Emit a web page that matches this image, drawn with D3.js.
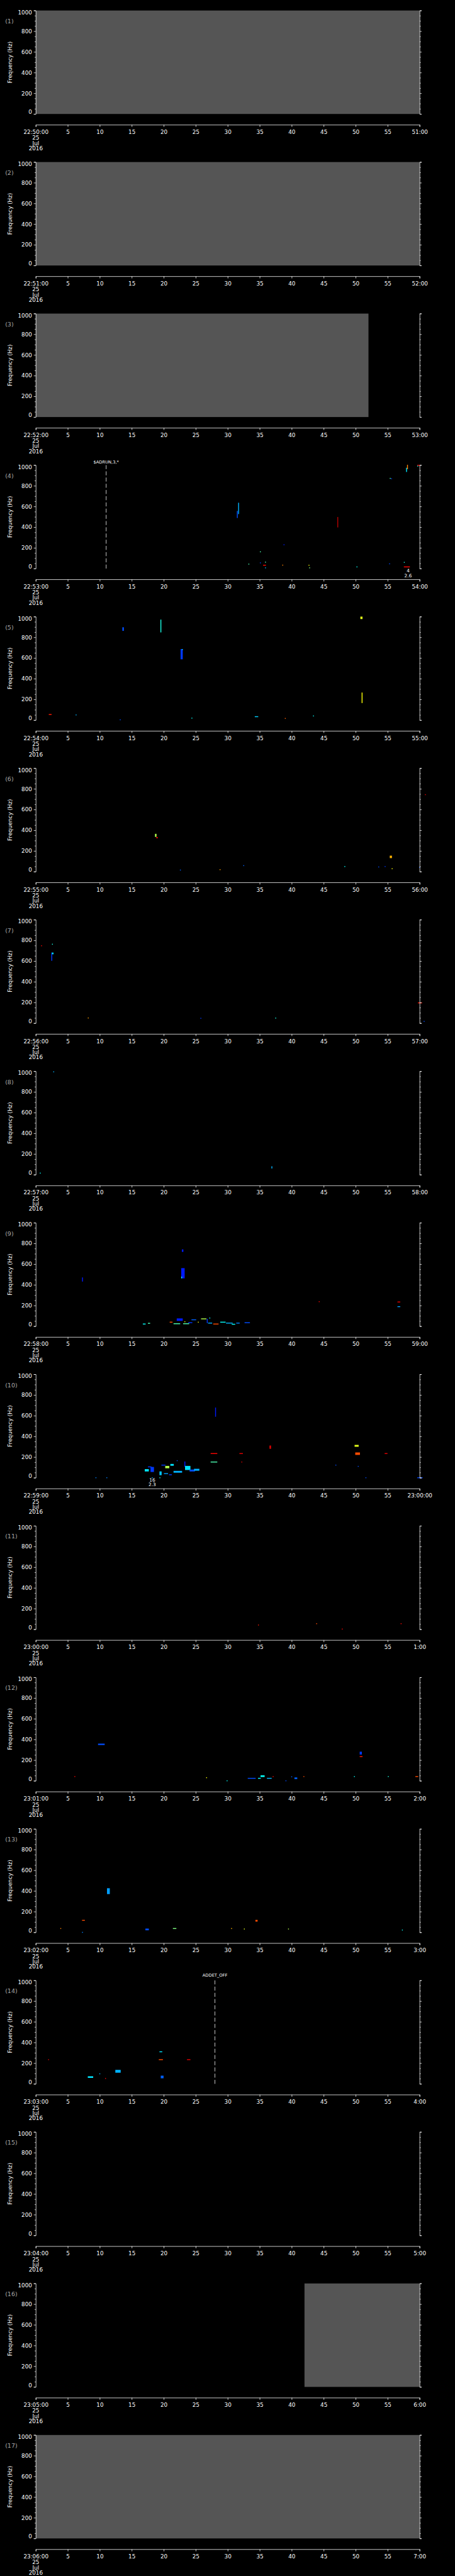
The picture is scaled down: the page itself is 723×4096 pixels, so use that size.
<!DOCTYPE html>
<html>
<head>
<meta charset="utf-8">
<script src="https://cdn.jsdelivr.net/npm/d3@7"></script>
<style>
  html, body { margin: 0; padding: 0; background: #000; }
  svg { display: block; }
  text { font-family: "DejaVu Sans", sans-serif; fill: #fff; }
</style>
</head>
<body>
<div id="chart"></div>
<script>
// one panel per minute, 22:50 -> 23:07
const panelStarts = ["22:50:00", "22:51:00", "22:52:00", "22:53:00", "22:54:00", "22:55:00",
  "22:56:00", "22:57:00", "22:58:00", "22:59:00", "23:00:00", "23:01:00", "23:02:00",
  "23:03:00", "23:04:00", "23:05:00", "23:06:00"];
const panelEnds = ["51:00", "52:00", "53:00", "54:00", "55:00", "56:00", "57:00", "58:00",
  "59:00", "23:00:00", "1:00", "2:00", "3:00", "4:00", "5:00", "6:00", "7:00"];
const dateLines = ["25", "Jul", "2016"];
const secondTicks = [0, 5, 10, 15, 20, 25, 30, 35, 40, 45, 50, 55, 60];
const freqMajor = [0, 200, 400, 600, 800, 1000];
const freqMinor = [50, 100, 150, 250, 300, 350, 450, 500, 550, 650, 700, 750, 850, 900, 950];

// no-data (grey) spans
const coverPanel = [1, 2, 3, 16, 17];
const coverFrom = [0, 0, 0, 42, 0];
const coverTo = [60, 60, 52, 60, 60];

// command markers
const annoPanel = [4, 14];
const annoSec = [11.0, 28.0];
const annoText = ["$ADRUN,3,*", "ADDET_OFF"];

// event labels below the plot
const eventPanel = [4, 10];
const eventSec = [58.2, 18.2];
const eventTop = ["4", "16"];
const eventBottom = ["2.6", "2.3"];

// spectrogram cells: [sec0, sec1, freq0, freq1, level]
const marks4 = [[31.5, 31.5, 493, 553, 0.2], [31.7, 31.7, 531, 632, 0.3], [47.2, 47.2, 402, 494, 0.95],
  [38.8, 38.8, 230, 230, 0.15], [35.1, 35.1, 162, 162, 0.45], [33.3, 33.3, 43, 43, 0.45],
  [35.1, 35.1, 55, 55, 0.18], [35.9, 35.9, 62, 62, 0.45], [35.6, 35.9, 32, 32, 0.87],
  [35.9, 35.9, 7, 7, 0.3], [38.6, 38.6, 33, 33, 0.75], [42.7, 42.7, 32, 32, 0.62],
  [42.8, 42.8, 7, 7, 0.5], [50.2, 50.2, 16, 16, 0.38], [55.3, 55.3, 46, 46, 0.2],
  [55.4, 55.4, 872, 872, 0.45], [55.6, 55.6, 868, 868, 0.18], [57.6, 57.6, 60, 60, 0.4],
  [57.6, 58.4, 16, 16, 0.87], [57.95, 57.95, 938, 970, 0.35], [58.1, 58.1, 965, 999, 0.75],
  [59.7, 60.0, 998, 998, 0.87], [59.7, 59.7, 990, 990, 0.4]];
const marks5 = [[13.6, 13.7, 867, 893, 0.2], [19.55, 19.55, 852, 967, 0.4], [22.7, 22.9, 592, 682, 0.18],
  [22.9, 22.9, 682, 682, 0.35], [50.8, 51.0, 981, 996, 0.6], [51.0, 51.0, 169, 262, 0.62],
  [2.1, 2.4, 54, 54, 0.85], [6.3, 6.3, 50, 50, 0.3], [13.2, 13.2, 3, 3, 0.2],
  [24.4, 24.4, 19, 19, 0.38], [34.3, 34.7, 33, 33, 0.33], [39.0, 39.0, 16, 16, 0.78],
  [43.4, 43.4, 40, 40, 0.38]];
const marks6 = [[18.7, 18.8, 340, 361, 0.55], [18.9, 19.0, 327, 330, 0.88], [22.6, 22.6, 15, 15, 0.22],
  [28.8, 28.8, 19, 19, 0.72], [32.5, 32.5, 58, 58, 0.22], [48.3, 48.3, 49, 49, 0.38],
  [53.6, 53.6, 45, 45, 0.2], [54.6, 54.6, 49, 49, 0.18], [55.4, 55.6, 135, 150, 0.7],
  [55.7, 55.7, 28, 28, 0.62], [60.0, 60.0, 41, 41, 0.2], [60.9, 60.9, 744, 744, 0.9]];
const marks7 = [[0.9, 0.9, 748, 748, 0.87], [2.6, 2.6, 763, 763, 0.4], [2.5, 2.5, 607, 678, 0.18],
  [2.6, 2.7, 670, 678, 0.35], [8.2, 8.2, 50, 50, 0.72], [25.8, 25.8, 47, 47, 0.18],
  [37.5, 37.5, 49, 49, 0.4], [59.8, 60.3, 196, 196, 0.85], [60.7, 60.7, 17, 17, 0.2]];
const marks8 = [[0.7, 0.7, 15, 15, 0.38], [2.8, 2.8, 994, 994, 0.3], [36.9, 36.9, 64, 77, 0.3]];
const marks9 = [[7.3, 7.3, 436, 467, 0.15], [22.9, 23.0, 723, 738, 0.15], [22.8, 23.2, 467, 557, 0.15],
  [22.8, 22.8, 467, 475, 0.38], [44.3, 44.3, 237, 237, 0.87], [56.6, 56.9, 234, 234, 0.9],
  [56.6, 56.9, 189, 189, 0.28], [16.8, 17.1, 21, 21, 0.38], [17.6, 17.8, 28, 28, 0.45],
  [21.0, 21.3, 39, 39, 0.8], [21.6, 22.5, 24, 24, 0.45], [22.1, 22.9, 56, 71, 0.15],
  [23.1, 23.9, 24, 24, 0.45], [23.3, 23.3, 43, 43, 0.62], [23.9, 24.4, 34, 34, 0.18],
  [24.4, 25.0, 62, 62, 0.22], [25.4, 25.4, 39, 39, 0.62], [25.9, 26.6, 71, 71, 0.55],
  [26.8, 26.8, 34, 67, 0.18], [27.0, 27.5, 30, 30, 0.3], [27.2, 27.2, 79, 79, 0.38],
  [27.8, 28.5, 21, 21, 0.8], [28.9, 29.6, 39, 39, 0.38], [29.8, 30.7, 30, 30, 0.3],
  [30.7, 31.1, 19, 19, 0.38], [31.4, 31.8, 30, 30, 0.25], [32.7, 33.4, 34, 34, 0.2]];
const marks10 = [[28.1, 28.1, 594, 674, 0.15], [27.4, 28.3, 234, 234, 0.87], [27.4, 28.3, 152, 152, 0.45],
  [31.9, 32.3, 234, 234, 0.9], [32.2, 32.2, 152, 152, 0.9], [36.6, 36.7, 284, 307, 0.9],
  [46.9, 46.9, 122, 122, 0.2], [49.9, 50.4, 304, 313, 0.6], [50.0, 50.6, 225, 240, 0.8],
  [50.4, 50.4, 110, 110, 0.2], [54.6, 54.9, 234, 234, 0.9], [51.6, 51.6, 0, 0, 0.2],
  [59.7, 60.4, 0, 0, 0.2], [9.4, 9.4, 0, 0, 0.25], [11.1, 11.1, 0, 0, 0.25],
  [18.2, 18.2, 0, 0, 0.3], [19.4, 19.4, 0, 0, 0.4], [17.1, 17.6, 65, 79, 0.35],
  [17.6, 18.0, 105, 105, 0.18], [18.0, 18.4, 60, 100, 0.18], [19.4, 19.6, 29, 57, 0.32],
  [20.1, 20.6, 40, 40, 0.28], [20.9, 21.2, 29, 29, 0.18], [19.7, 20.2, 122, 122, 0.18],
  [20.3, 20.8, 96, 110, 0.55], [21.1, 21.5, 120, 129, 0.35], [21.6, 22.8, 53, 62, 0.3],
  [22.1, 22.1, 165, 165, 0.2], [23.3, 23.3, 110, 153, 0.15], [23.4, 24.1, 79, 110, 0.35],
  [24.1, 24.8, 65, 75, 0.2], [24.8, 25.5, 72, 82, 0.3]];
const marks11 = [[34.8, 34.8, 41, 41, 0.85], [43.9, 43.9, 54, 54, 0.8], [47.9, 47.9, 2, 2, 0.87],
  [57.1, 57.1, 54, 54, 0.87]];
const marks12 = [[6.1, 6.1, 41, 41, 0.87], [9.8, 10.7, 350, 355, 0.2], [26.7, 26.7, 30, 30, 0.62],
  [29.9, 29.9, 0, 0, 0.38], [33.2, 34.3, 24, 24, 0.2], [34.8, 35.1, 24, 24, 0.38],
  [35.2, 35.7, 41, 49, 0.38], [36.2, 36.8, 24, 24, 0.3], [37.1, 37.1, 41, 41, 0.87],
  [39.1, 39.1, 0, 0, 0.2], [40.0, 40.0, 39, 39, 0.22], [40.5, 40.8, 21, 28, 0.22],
  [41.9, 41.9, 41, 41, 0.8], [49.8, 49.8, 41, 41, 0.38], [50.7, 50.9, 258, 277, 0.18],
  [50.7, 51.0, 234, 234, 0.85], [55.1, 55.1, 41, 41, 0.4], [59.4, 59.7, 41, 41, 0.8]];
const marks13 = [[3.9, 3.9, 37, 37, 0.75], [7.3, 7.6, 116, 116, 0.8], [7.3, 7.3, 0, 0, 0.25],
  [11.2, 11.5, 374, 422, 0.28], [17.2, 17.6, 24, 32, 0.2], [21.5, 21.9, 37, 37, 0.5],
  [30.6, 30.6, 37, 37, 0.7], [32.6, 32.6, 32, 32, 0.6], [34.4, 34.6, 108, 116, 0.8],
  [39.5, 39.5, 32, 32, 0.55], [57.3, 57.3, 22, 22, 0.38]];
const marks14 = [[2.0, 2.0, 234, 234, 0.9], [8.2, 8.9, 62, 69, 0.35], [10.0, 10.0, 97, 97, 0.3],
  [10.9, 10.9, 52, 52, 0.87], [12.5, 13.2, 112, 131, 0.3], [19.4, 19.7, 310, 310, 0.35],
  [19.3, 19.8, 234, 234, 0.8], [19.6, 19.9, 58, 75, 0.22], [23.7, 24.1, 234, 234, 0.9]];

const panelMarks = {4: marks4, 5: marks5, 6: marks6, 7: marks7, 8: marks8, 9: marks9,
  10: marks10, 11: marks11, 12: marks12, 13: marks13, 14: marks14};

// drawn in reference pixels, shrunk by the viewBox
const W = 1024, H = 5802, pitch = H / panelStarts.length;
const margin = {left: 80.5, right: 79.5, top: 23.7};
const plotH = 233, axisY = 281;

const x = d3.scaleLinear().domain([0, 60]).range([margin.left, W - margin.right]);
const y = d3.scaleLinear().domain([0, 1000]).range([margin.top + plotH, margin.top]);
const jet = d3.scaleLinear()
  .domain([0, 0.125, 0.375, 0.625, 0.875, 1])
  .range(['#00008f', '#0000ff', '#00ffff', '#ffff00', '#ff0000', '#800000']);

const svg = d3.select('#chart').append('svg')
  .attr('width', 723)
  .attr('height', 4096)
  .attr('viewBox', `0 0 ${W} ${H}`);
svg.append('rect').attr('width', W).attr('height', H).attr('fill', '#000');

function styleAxis(g) {
  g.selectAll('path, line').attr('stroke', '#fff').attr('stroke-width', 1.1);
  g.selectAll('text').attr('fill', '#fff').attr('font-size', 12.5)
    .attr('font-family', '"DejaVu Sans", sans-serif');
}

panelStarts.forEach((start, i) => {
  const k = i + 1;
  const g = svg.append('g').attr('transform', `translate(0,${(i * pitch).toFixed(2)})`);

  // grey no-data cover
  coverPanel.forEach((p, j) => {
    if (p !== k) return;
    g.append('rect')
      .attr('x', x(coverFrom[j])).attr('y', y(1000))
      .attr('width', x(coverTo[j]) - x(coverFrom[j]))
      .attr('height', y(0) - y(1000))
      .attr('fill', '#555555');
  });

  // spectrogram cells
  const cells = panelMarks[k] || [];
  g.append('g').selectAll('rect').data(cells).join('rect')
    .attr('x', d => x(d[0]) - 1)
    .attr('y', d => y(d[3]) - 1)
    .attr('width', d => x(d[1]) - x(d[0]) + 2)
    .attr('height', d => y(d[2]) - y(d[3]) + 2)
    .attr('fill', d => jet(d[4]));

  // left frequency axis
  const left = g.append('g').attr('transform', `translate(${margin.left},0)`)
    .call(d3.axisLeft(y).tickValues(freqMajor).tickFormat(d3.format('d'))
      .tickSize(4.5).tickSizeOuter(4.5).tickPadding(4));
  left.call(styleAxis);
  left.selectAll('.tick text').attr('dy', d => d === 0 ? '-0.02em' : d === 1000 ? '0.65em' : '0.32em');
  g.append('g').attr('transform', `translate(${margin.left},0)`)
    .call(d3.axisLeft(y).tickValues(freqMinor).tickSize(2.5).tickFormat(''))
    .call(a => a.select('.domain').remove())
    .call(styleAxis);

  // right frequency axis
  g.append('g').attr('transform', `translate(${W - margin.right},0)`)
    .call(d3.axisRight(y).tickValues(freqMajor).tickSize(4.5).tickSizeOuter(4.5).tickFormat(''))
    .call(styleAxis);
  g.append('g').attr('transform', `translate(${W - margin.right},0)`)
    .call(d3.axisRight(y).tickValues(freqMinor).tickSize(2.5).tickFormat(''))
    .call(a => a.select('.domain').remove())
    .call(styleAxis);

  // time axis
  const bottom = g.append('g').attr('transform', `translate(0,${axisY})`)
    .call(d3.axisBottom(x).tickValues(secondTicks).tickSize(4.7).tickSizeOuter(4.7).tickPadding(7)
      .tickFormat(s => s === 0 ? start : s === 60 ? panelEnds[i] : String(s)));
  bottom.call(styleAxis);

  g.selectAll('.date').data(dateLines).join('text')
    .attr('x', x(0)).attr('y', (d, j) => 315 + j * 11.65)
    .attr('text-anchor', 'middle').attr('font-size', 12.5)
    .text(d => d);

  g.append('text')
    .attr('transform', `translate(27,${margin.top + plotH / 2}) rotate(-90)`)
    .attr('text-anchor', 'middle').attr('font-size', 12.5)
    .text('Frequency (Hz)');

  g.append('text')
    .attr('x', 11.5).attr('y', 52.5)
    .attr('font-size', 13.5).style('fill', '#a8a8a8')
    .text(`(${k})`);

  // command markers
  annoPanel.forEach((p, j) => {
    if (p !== k) return;
    g.append('line')
      .attr('x1', x(annoSec[j])).attr('x2', x(annoSec[j]))
      .attr('y1', y(1000)).attr('y2', y(0))
      .attr('stroke', '#fff').attr('stroke-width', 1.1)
      .attr('stroke-dasharray', '9,5');
    g.append('text')
      .attr('x', x(annoSec[j])).attr('y', k === 4 ? 19.4 : 15)
      .attr('text-anchor', 'middle').attr('font-size', 9.5)
      .text(annoText[j]);
  });

  eventPanel.forEach((p, j) => {
    if (p !== k) return;
    g.append('text').attr('x', x(eventSec[j])).attr('y', 265.5)
      .attr('text-anchor', 'middle').attr('font-size', 10.5).text(eventTop[j]);
    g.append('text').attr('x', x(eventSec[j])).attr('y', 276)
      .attr('text-anchor', 'middle').attr('font-size', 10.5).text(eventBottom[j]);
  });
});
</script>
</body>
</html>
